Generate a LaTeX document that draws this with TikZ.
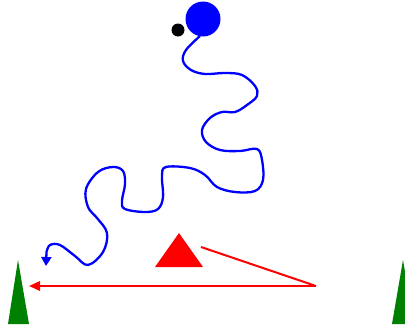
\documentclass[tikz,border=0pt]{standalone}
\usetikzlibrary{arrows.meta}
\definecolor{pblue}{RGB}{0,0,255}
\definecolor{pred}{RGB}{255,0,0}
\definecolor{pgreen}{RGB}{0,128,0}
\begin{document}
\begin{tikzpicture}[x=1pt,y=-1pt,
  tree/.style={fill=pgreen},
  redline/.style={draw=pred,line width=2pt},
  wiggle/.style={draw=pblue,line width=2.3pt}]
\useasboundingbox (0,0) rectangle (405,327);
% head and dot
\node[circle,fill=pblue,inner sep=0pt,minimum size=35pt] (head) at (203,19) {};
\node[circle,fill=black,inner sep=0pt,minimum size=13pt] (dot) at (178,30) {};
% wiggly path
\coordinate (wend) at (46,266);
\draw[wiggle,-{Triangle[length=9pt,width=10pt]}] plot[smooth,tension=0.6] coordinates {
(200,36) (186,50) (183,61) (191,70) (205,74) (225,73) (242,75) (255,86) (257,96) (247,105)
(235,112) (222,112) (210,118) (202,130) (206,142) (220,150) (240,151) (257,149) (262,160)
(263,180) (255,191) (235,192) (217,187) (205,175) (190,168) (166,167) (162,176) (163,197)
(158,209) (145,212) (125,209) (122,201) (125,184) (123,171) (113,167) (98,172) (86,189)
(88,207) (97,218) (107,233) (103,252) (88,265) (75,256) (60,245) (50,245) (46.5,252)} -- (wend);
% trees
\fill[tree] (18,260) -- (29,324) -- (8,324) -- cycle;
\fill[tree] (403,260) -- (414,324) -- (392,324) -- cycle;
% red triangle
\fill[pred] (179,233) -- (203,267) -- (155,267) -- cycle;
% red lines
\coordinate (rend) at (316,286);
\coordinate (rtop) at (201,247);
\coordinate (rtip) at (29,286);
\draw[redline] (rtop) -- (rend);
\draw[redline,-{Triangle[length=11pt,width=9.5pt]}] (rend) -- (rtip);
\end{tikzpicture}
\end{document}
